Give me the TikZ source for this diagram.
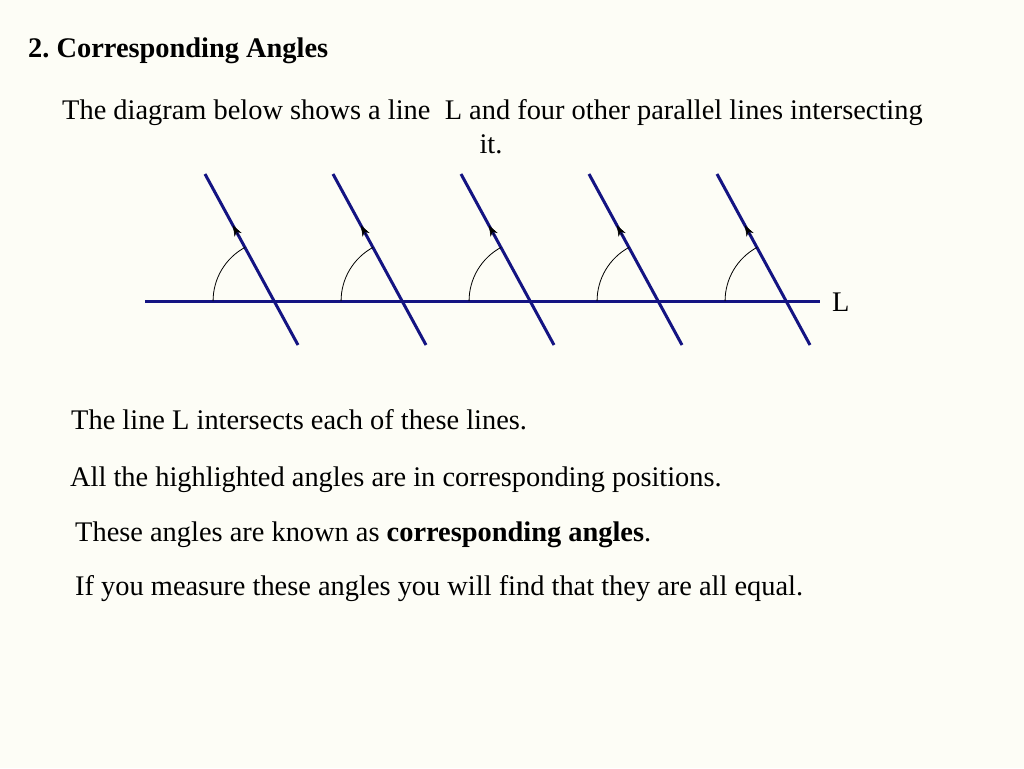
\documentclass[tikz,border=0pt]{standalone}
\usepackage{fontspec}
\setmainfont{Liberation Serif}
\frenchspacing
\usetikzlibrary{calc,arrows.meta}
\definecolor{paper}{RGB}{253,253,246}
\definecolor{navy}{RGB}{20,20,130}
\tikzset{
  txt/.style={anchor=base west,inner sep=0pt,font=\fontsize{28.4}{34}\selectfont},
  heavy/.style={navy,line width=3pt},
  angarc/.style={black,line width=0.8pt},
  dirtip/.style={black,line width=0.6pt,-{Stealth[length=11pt,width=8pt]}}
}
\begin{document}
\begin{tikzpicture}[x=1pt,y=-1pt]
  \fill[paper] (0,0) rectangle (1024,768);
  \useasboundingbox (0,0) rectangle (1024,768);
  % texts
  \node[txt,font=\fontsize{28.4}{34}\selectfont\bfseries] (title) at (28,58) {2. Corresponding Angles};
  \node[txt] (intro) at (62,119) {The diagram below shows a line~ L and four other parallel lines intersecting};
  \node[anchor=base,inner sep=0pt,font=\fontsize{28.4}{34}\selectfont] (intro2) at (491,153) {it.};
  \node[txt] (t1) at (71,429) {The line L intersects each of these lines.};
  \node[txt] (t2) at (70,486) {All the highlighted angles are in corresponding positions.};
  \node[txt] (t3) at (75,541) {These angles are known as \textbf{corresponding angles}.};
  \node[txt] (t4) at (75,595) {If you measure these angles you will find that they are all equal.};
  % the line L
  \coordinate (Lw) at (145,301);
  \coordinate (Le) at (820,301);
  \draw[heavy] (Lw) -- (Le);
  \node[txt] (lab) at (832,311) {L};
  % parallel lines
  \foreach \i in {0,...,4}{
    \coordinate (T\i) at (205+128*\i,174);
    \coordinate (B\i) at (298+128*\i,345);
    \coordinate (X\i) at ($(T\i)!0.7427!(B\i)$);
    \coordinate (A\i) at ($(T\i)!0.36!(B\i)$);
    \coordinate (H\i) at ($(T\i)!0.30!(B\i)$);
    \draw[heavy] (T\i) -- (B\i);
    \draw[angarc] (X\i) ++(180:61) arc[start angle=180,end angle=241.5,radius=61];
    \draw[dirtip] (A\i) -- (H\i);
  }
\end{tikzpicture}
\end{document}
